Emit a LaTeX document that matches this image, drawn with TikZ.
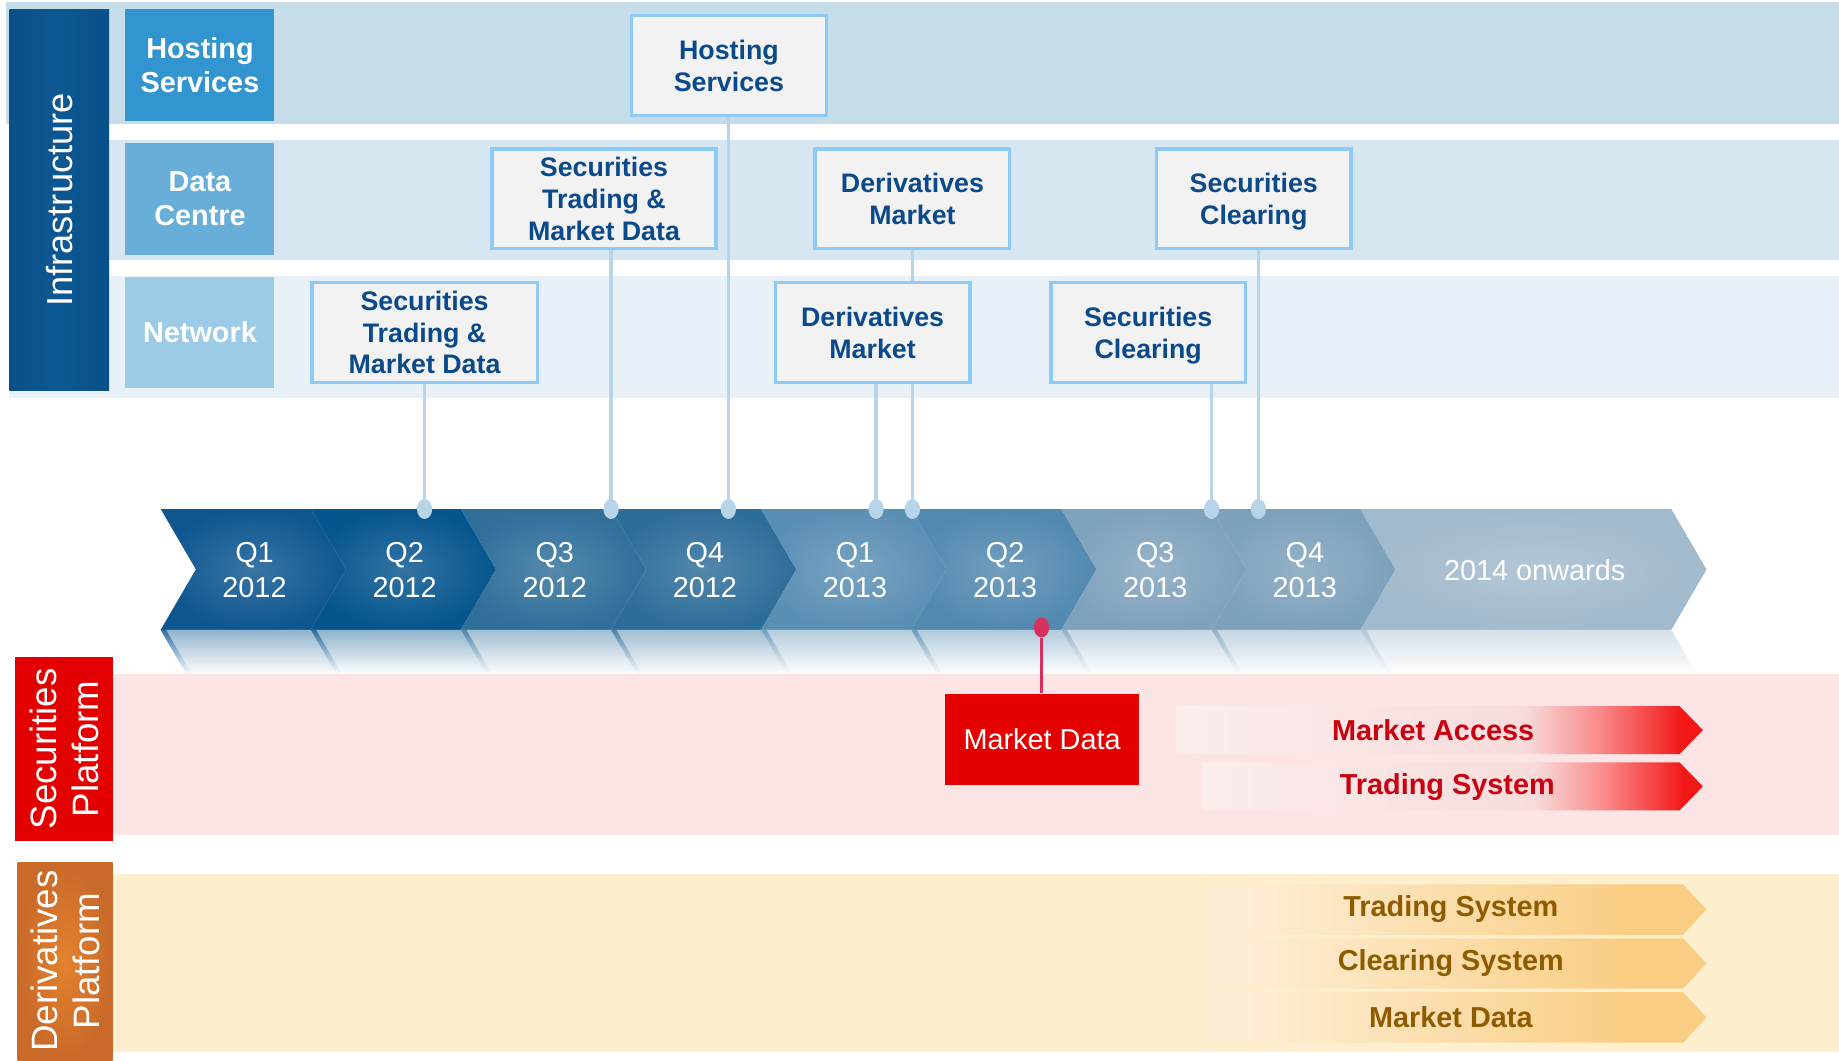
\documentclass[tikz,border=0pt]{standalone}
\usepackage{fontspec}
\setmainfont{Liberation Sans}
\usetikzlibrary{shapes.geometric}

\pgfdeclarelayer{front}
\pgfsetlayers{main,front}

\definecolor{hostband}{HTML}{C6DDEA}
\definecolor{databand}{HTML}{D7E7F1}
\definecolor{netband}{HTML}{E9F1F8}
\definecolor{infrablue}{HTML}{0A4F88}
\definecolor{infralight}{HTML}{0C5893}
\definecolor{hostfill}{HTML}{3395CF}
\definecolor{dcfill}{HTML}{67AED9}
\definecolor{netfill}{HTML}{9CCBE8}
\definecolor{boxfill}{HTML}{F2F2F2}
\definecolor{boxline}{HTML}{8ECAF8}
\definecolor{navytext}{HTML}{0B4A8A}
\definecolor{linkblue}{HTML}{B8D4E8}
\definecolor{chevA}{HTML}{0E5690}
\definecolor{chevB}{HTML}{05558E}
\definecolor{chevC}{HTML}{2F6F9A}
\definecolor{chevD}{HTML}{2D6D99}
\definecolor{chevE}{HTML}{5A8FB4}
\definecolor{chevF}{HTML}{5289B0}
\definecolor{chevG}{HTML}{7FA2BC}
\definecolor{chevH}{HTML}{7DA1BB}
\definecolor{chevI}{HTML}{A2BACD}
\definecolor{secband}{HTML}{FDE5E5}
\definecolor{secred}{HTML}{E30000}
\definecolor{mdred}{HTML}{E50000}
\definecolor{pinkline}{HTML}{D6305F}
\definecolor{redtext}{HTML}{C8000F}
\definecolor{derband}{HTML}{FEF0CE}
\definecolor{derdark}{HTML}{C9692A}
\definecolor{derlight}{HTML}{E3822E}
\definecolor{browntext}{HTML}{8E5C00}
\definecolor{orgleft}{HTML}{FEEED6}
\definecolor{orgright}{HTML}{F9CE84}
\definecolor{redA}{HTML}{FCEDED}
\definecolor{redB}{HTML}{F8DCDC}
\definecolor{redC}{HTML}{FA8C8C}
\definecolor{redD}{HTML}{F21818}

\pgfdeclarehorizontalshading{redfade}{100bp}{color(0bp)=(redA); color(25bp)=(redA); color(58bp)=(redB); color(65bp)=(redC); color(73bp)=(redD); color(100bp)=(redD)}
\pgfdeclarehorizontalshading{orgfade}{100bp}{color(0bp)=(orgleft); color(29bp)=(orgleft); color(67bp)=(orgright); color(100bp)=(orgright)}

\begin{document}
\begin{tikzpicture}[
  rowlabel/.style={minimum width=1.27cm, minimum height=0.95cm, inner sep=0pt, align=center, text=white, font=\bfseries\fontsize{7}{8.3}\selectfont},
  infobox/.style={draw=boxline, fill=boxfill, line width=0.8pt, minimum width=1.66cm, minimum height=0.85cm, inner sep=0pt, text depth=0pt, align=center, text=navytext, font=\bfseries\fontsize{6.5}{7.7}\selectfont},
  sidelabel/.style={rotate=90, inner sep=0pt, align=center, text=white, font=\fontsize{8.9}{10.2}\selectfont},
  link/.style={draw=linkblue, line width=0.8pt},
  pin/.style={ellipse, fill=linkblue, minimum width=0.13cm, minimum height=0.17cm, inner sep=0pt},
  qtext/.style={align=center, text=white, font=\fontsize{7}{8.5}\selectfont},
  arrowtext/.style={font=\bfseries\fontsize{7}{8}\selectfont}
]

\useasboundingbox (0,0) rectangle (15.68,-9.04);

% INFRASTRUCTURE BANDS
\fill[hostband] (0.05,-0.02) rectangle (15.68,-1.06);
\fill[databand] (0.93,-1.19) rectangle (15.68,-2.22);
\fill[netband] (0.08,-2.35) rectangle (15.68,-3.39);

\node[minimum width=0.85cm, minimum height=3.25cm, inner sep=0pt, left color=infrablue, right color=infrablue, middle color=infralight] (infra) at (0.505,-1.705) {};
\node[sidelabel, font=\fontsize{8.8}{10}\selectfont] (infratext) at (infra) {Infrastructure};

\node[rowlabel, fill=hostfill] (hostlab) at (1.705,-0.555) {Hosting\\Services};
\node[rowlabel, fill=dcfill] (dclab) at (1.705,-1.695) {Data\\Centre};
\node[rowlabel, fill=netfill] (netlab) at (1.705,-2.835) {Network};

% PROJECT BOXES
\begin{pgfonlayer}{front}
\node[infobox] (hs) at (6.215,-0.56) {Hosting\\Services};
\node[infobox, minimum width=1.91cm] (stmdC) at (5.15,-1.695) {Securities\\Trading \&\\Market Data};
\node[infobox] (dmC) at (7.78,-1.695) {Derivatives\\Market};
\node[infobox] (scC) at (10.69,-1.695) {Securities\\Clearing};
\node[infobox, minimum width=1.92cm] (stmdN) at (3.62,-2.835) {Securities\\Trading \&\\Market Data};
\node[infobox] (dmN) at (7.44,-2.835) {Derivatives\\Market};
\node[infobox] (scN) at (9.79,-2.835) {Securities\\Clearing};
\end{pgfonlayer}

% TIMELINE
\foreach \xa/\xb/\cc/\txt [count=\i] in {
  1.37/2.65/chevA/{Q1\\2012},
  2.65/3.93/chevB/{Q2\\2012},
  3.93/5.21/chevC/{Q3\\2012},
  5.21/6.49/chevD/{Q4\\2012},
  6.49/7.77/chevE/{Q1\\2013},
  7.77/9.05/chevF/{Q2\\2013},
  9.05/10.33/chevG/{Q3\\2013},
  10.33/11.60/chevH/{Q4\\2013},
  11.60/14.25/chevI/{2014 onwards}}{
  \shade[inner color=\cc!82!white, outer color=\cc] (\xa,-4.34) -- (\xb,-4.34) -- ({\xb+0.3},-4.855) -- (\xb,-5.37) -- (\xa,-5.37) -- ({\xa+0.3},-4.855) -- cycle;
  \shade[top color=\cc!45!white, bottom color=white] (\xa,-5.37) -- (\xb,-5.37) -- ({\xb+0.22},-5.75) -- ({\xa+0.22},-5.75) -- cycle;
  \shade[top color=\cc!85!white, bottom color=white] (\xa,-5.37) -- ({\xa+0.045},-5.37) -- ({\xa+0.265},-5.75) -- ({\xa+0.22},-5.75) -- cycle;
  \node[qtext] (q\i) at ({(\xa+\xb+0.3)/2+0.01},-4.86) {\txt};
}

% Connections to timeline
\foreach \x [count=\j] in {3.62,5.21,6.21,7.47,7.78,10.33,10.73}
  \coordinate (c\j) at (\x,-4.34);
\draw[link] (stmdN.south -| c1) -- (c1);
\draw[link] (stmdC.south -| c2) -- (c2);
\draw[link] (hs.south -| c3) -- (c3);
\draw[link] (dmN.south -| c4) -- (c4);
\draw[link] (dmC.south -| c5) -- (c5);
\draw[link] (scN.south -| c6) -- (c6);
\draw[link] (scC.south -| c7) -- (c7);
\foreach \j in {1,...,7}
  \node[pin] (p\j) at (c\j) {};

% SECURITIES PLATFORM
\fill[secband] (0.96,-5.75) rectangle (15.68,-7.12);
\node[fill=secred, minimum width=0.83cm, minimum height=1.57cm, inner sep=0pt] (seclab) at (0.545,-6.385) {};
\node[sidelabel] (sectext) at (seclab) {Securities\\Platform};

\node[fill=mdred, minimum width=1.65cm, minimum height=0.77cm, inner sep=0pt, text=white, font=\fontsize{7}{8}\selectfont] (mdbox) at (8.885,-6.305) {Market Data};
\node[pin, fill=pinkline] (rp) at (8.88,-5.35) {};
\draw[draw=pinkline, line width=0.8pt] (rp) -- (rp |- mdbox.north);

\shade[shading=redfade] (10.03,-6.02) -- (14.32,-6.02) -- (14.52,-6.225) -- (14.32,-6.43) -- (10.03,-6.43) -- cycle;
\node[arrowtext, text=redtext] (maccess) at (12.22,-6.23) {Market Access};
\shade[shading=redfade] (10.26,-6.50) -- (14.32,-6.50) -- (14.52,-6.705) -- (14.32,-6.91) -- (10.26,-6.91) -- cycle;
\node[arrowtext, text=redtext] (tsys) at (12.34,-6.71) {Trading System};

% DERIVATIVES PLATFORM
\fill[derband] (0.96,-7.45) rectangle (15.68,-8.97);
\node[minimum width=0.81cm, minimum height=1.69cm, inner sep=0pt, inner color=derlight, outer color=derdark] (derlab) at (0.555,-8.195) {};
\node[sidelabel] (dertext) at (derlab) {Derivatives\\Platform};

\foreach \ya/\txt/\nm in {7.54/Trading System/dts, 8.00/Clearing System/dcs, 8.46/Market Data/dmd}{
  \shade[shading=orgfade] (10.28,-\ya) -- (14.35,-\ya) -- (14.55,{-\ya-0.215}) -- (14.35,{-\ya-0.43}) -- (10.28,{-\ya-0.43}) -- cycle;
  \node[arrowtext, text=browntext] (\nm) at (12.37,{-\ya-0.215}) {\txt};
}

\end{tikzpicture}
\end{document}
